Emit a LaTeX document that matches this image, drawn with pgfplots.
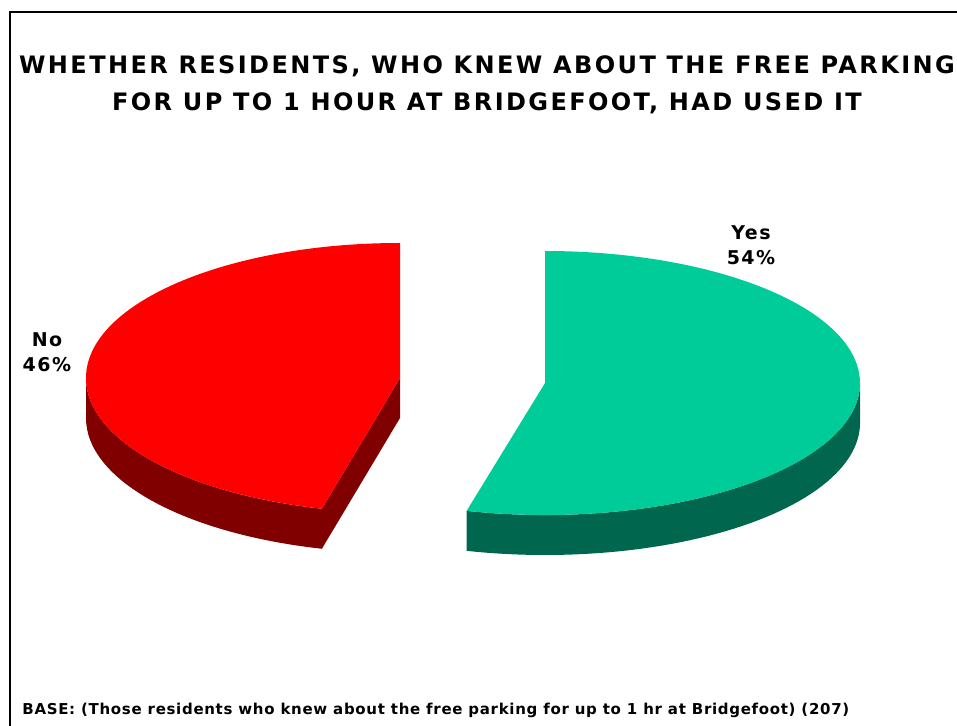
\documentclass[border=0pt]{standalone}
\usepackage{pgfplots}
\usepackage{pgfplotstable}
\pgfplotsset{compat=1.18}
\usepackage{fontspec}
\setmainfont{DejaVu Sans}
\newfontfamily\titlefont[LetterSpace=10]{DejaVu Sans}
\newfontfamily\labelfont[LetterSpace=8]{DejaVu Sans}
\newfontfamily\basefont[LetterSpace=4.6]{DejaVu Sans}

\definecolor{noTop}{RGB}{255,0,0}
\definecolor{noSide}{RGB}{128,0,0}
\definecolor{yesTop}{RGB}{0,204,153}
\definecolor{yesSide}{RGB}{0,102,77}

% shares in percent
\pgfplotstableread{
label share
No    46
Yes   54
}\pietable

\begin{document}
\begin{tikzpicture}
\pgfplotstablegetelem{0}{share}\of\pietable \let\shareNo\pgfplotsretval
\pgfplotstablegetelem{1}{share}\of\pietable \let\shareYes\pgfplotsretval
% slices start at 12 o'clock and run counter-clockwise
\pgfmathsetmacro\cut{90+\shareNo/(\shareNo+\shareYes)*360}
\begin{axis}[
    x=0.5pt, y=0.5pt,
    y dir=reverse,
    xmin=0, xmax=957,
    ymin=0, ymax=726,
    hide axis,
    clip=false,
    scale only axis
]
\coordinate (bbNW) at (axis cs:0,0);
\coordinate (bbSE) at (axis cs:957,726);

% frame
\draw[line width=1pt] (axis cs:10,726) -- (axis cs:10,12) -- (axis cs:957,12);

% No slice (exploded left)
\coordinate (cN) at (axis cs:400,378);
\fill[noSide] (cN) ++(180:157pt and 67.5pt)
    arc[start angle=180, end angle=\cut, x radius=157pt, y radius=67.5pt]
    -- ++(0,-20pt)
    arc[start angle=\cut, end angle=180, x radius=157pt, y radius=67.5pt] -- cycle;
\fill[noSide] (cN) -- ++(\cut:157pt and 67.5pt) -- ++(0,-20pt)
    -- ([yshift=-20pt]cN) -- cycle;
\fill[noTop] (cN) -- ++(90:157pt and 67.5pt)
    arc[start angle=90, end angle=\cut, x radius=157pt, y radius=67.5pt] -- cycle;

% Yes slice (exploded right)
\coordinate (cY) at (axis cs:545,383);
\fill[yesSide] (cY) ++(\cut:157.5pt and 66pt)
    arc[start angle=\cut, end angle=360, x radius=157.5pt, y radius=66pt]
    -- ++(0,-20pt)
    arc[start angle=360, end angle=\cut, x radius=157.5pt, y radius=66pt] -- cycle;
\fill[yesTop] (cY) -- ++(\cut:157.5pt and 66pt)
    arc[start angle=\cut, end angle=450, x radius=157.5pt, y radius=66pt] -- cycle;

% labels
\node[font=\labelfont\bfseries\fontsize{9.5}{12.5}\selectfont, align=center]
    at (axis cs:47,352) {No\\46\%};
\node[font=\labelfont\bfseries\fontsize{9.5}{12.5}\selectfont, align=center]
    at (axis cs:751,245) {Yes\\54\%};

% title
\node[font=\titlefont\bfseries\fontsize{12}{18.5}\selectfont, align=center]
    at (axis cs:487,85) {WHETHER RESIDENTS, WHO KNEW ABOUT THE FREE PARKING\\FOR UP TO 1 HOUR AT BRIDGEFOOT, HAD USED IT};

% base note
\node[font=\basefont\bfseries\fontsize{7.5}{9}\selectfont, anchor=base west, inner sep=0pt]
    at (axis cs:22,714) {BASE: (Those residents who knew about the free parking for up to 1 hr at Bridgefoot) (207)};
\end{axis}
\pgfresetboundingbox
\path[use as bounding box] (bbNW) rectangle (bbSE);
\end{tikzpicture}
\end{document}
